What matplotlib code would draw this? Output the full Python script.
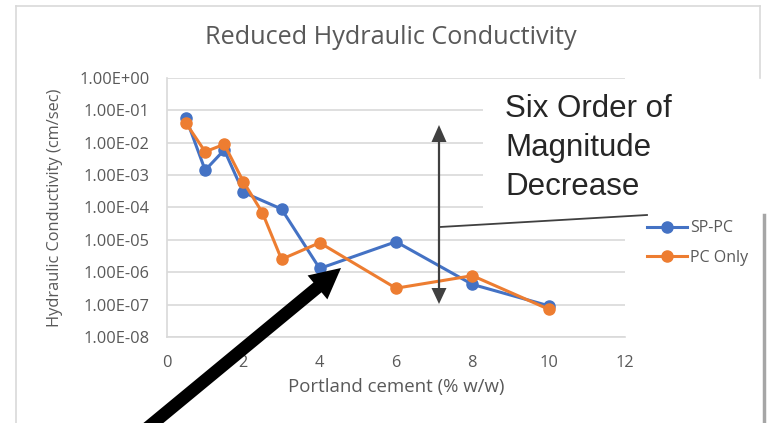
import matplotlib
matplotlib.use("Agg")
import matplotlib.pyplot as plt
from matplotlib.patches import Rectangle, FancyArrow
from matplotlib.lines import Line2D
from matplotlib.transforms import IdentityTransform
from matplotlib.ticker import FixedLocator, FuncFormatter

# ---- data ----
sp_pc_x = [0.5, 1, 1.5, 2, 3, 4, 6, 8, 10]
sp_pc_y = [5.6e-2, 1.4e-3, 5.9e-3, 2.9e-4, 8.9e-5, 1.3e-6, 8.7e-6, 4.2e-7, 9.2e-8]
pc_x = [0.5, 1, 1.5, 2, 2.5, 3, 4, 6, 8, 10]
pc_y = [3.9e-2, 5.2e-3, 8.8e-3, 6.2e-4, 6.8e-5, 2.5e-6, 8.1e-6, 3.2e-7, 7.8e-7, 7.2e-8]
x_ticks = [0, 2, 4, 6, 8, 10, 12]
y_ticks = [1e0, 1e-1, 1e-2, 1e-3, 1e-4, 1e-5, 1e-6, 1e-7, 1e-8]
series_names = ["SP-PC", "PC Only"]
title = "Reduced Hydraulic Conductivity"
xlabel = "Portland cement (% w/w)"
ylabel = "Hydraulic Conductivity (cm/sec)"
note = "Six Order of\nMagnitude\nDecrease"

W, H = 770, 423
fig = plt.figure(figsize=(W / 100, H / 100), dpi=100)

def fx(px):
    return px / W

def fy(py):
    return 1 - py / H

PIX = IdentityTransform()

def arrow_px(x0, y0, x1, y1, width, hw, hl, color, z):
    # pixel coordinates measured from the top-left corner
    a = FancyArrow(x0, H - y0, x1 - x0, -(y1 - y0), width=width, head_width=hw,
                   head_length=hl, length_includes_head=True, color=color,
                   transform=PIX, zorder=z, lw=0)
    fig.add_artist(a)
    a.set_transform(PIX)

BLUE = "#4472C4"
ORANGE = "#ED7D31"
GRAY = "#595959"
GRID = "#D9D9D9"
FONT = ["Open Sans", "DejaVu Sans"]

# chart border
fig.add_artist(Line2D([fx(16), fx(16)], [fy(6), fy(423)], color=GRID, lw=1.2))
fig.add_artist(Line2D([fx(16), fx(760)], [fy(6), fy(6)], color=GRID, lw=1.2))
fig.add_artist(Line2D([fx(760), fx(760)], [fy(6), fy(78)], color=GRID, lw=1.2))

ax = fig.add_axes([fx(167), fy(337), fx(625) - fx(167), fy(77.7) - fy(337)])
ax.set_yscale("log")
ax.set_xlim(0, 12)
ax.set_ylim(1e-8, 1e0)
ax.yaxis.set_major_locator(FixedLocator(y_ticks))
ax.yaxis.set_minor_locator(FixedLocator([]))
ax.yaxis.set_major_formatter(FuncFormatter(lambda v, p: f"{v:.2E}"))
ax.set_xticks(x_ticks)
ax.grid(axis="y", color=GRID, lw=1.2)
ax.set_axisbelow(True)
for s in ["top", "right"]:
    ax.spines[s].set_visible(False)
for s in ["left", "bottom"]:
    ax.spines[s].set_color(GRID)
    ax.spines[s].set_linewidth(1.2)
ax.tick_params(length=0, colors=GRAY, labelsize=11.8, pad=12.5)
ax.tick_params(axis="x", pad=13)
for lab in ax.get_xticklabels() + ax.get_yticklabels():
    lab.set_family(FONT)

l1, = ax.plot(sp_pc_x, sp_pc_y, color=BLUE, lw=2.2, marker="o", ms=8, label=series_names[0], clip_on=False)
l2, = ax.plot(pc_x, pc_y, color=ORANGE, lw=2.2, marker="o", ms=8, label=series_names[1], clip_on=False)

fig.text(fx(391), fy(38), title, ha="center", va="center", fontsize=18.2, color=GRAY, family=FONT)
fig.text(fx(396), fy(387), xlabel, ha="center", va="center", fontsize=13.4, color=GRAY, family=FONT)
fig.text(fx(55), fy(208), ylabel, ha="center", va="center", rotation=90, fontsize=11.8, color=GRAY, family=FONT)

leg = fig.legend(handles=[l1, l2], loc="upper left", bbox_to_anchor=(fx(633), fy(206)),
                 frameon=False, handlelength=2.5, handletextpad=0.15, labelspacing=0.85,
                 prop={"family": FONT, "size": 11.5})
for t in leg.get_texts():
    t.set_color(GRAY)

# white text box overlay
fig.add_artist(Rectangle((fx(483), fy(214)), fx(770) - fx(483), fy(79) - fy(214),
                         facecolor="white", edgecolor="none", zorder=5))
fig.text(fx(505), fy(148), note, ha="left", va="center", fontsize=22.5, color="#262626",
         family=["Liberation Sans", "DejaVu Sans"], linespacing=1.38, zorder=6)

# right gray bar
fig.add_artist(Line2D([fx(764), fx(764)], [fy(215), fy(423)], color="#A6A6A6", lw=2.5, zorder=6))

# double-headed vertical arrow
ac = "#404040"
fig.add_artist(Line2D([fx(439), fx(439)], [fy(138), fy(291)], color=ac, lw=1.6, zorder=7))
arrow_px(439, 150, 439, 125, 0.01, 15, 17, ac, 7)
arrow_px(439, 280, 439, 304, 0.01, 15, 16, ac, 7)
# connector line
fig.add_artist(Line2D([fx(440), fx(647)], [fy(227), fy(215)], color=ac, lw=1.3, zorder=7))

# big black arrow
arrow_px(134, 439, 341, 268, 12.7, 31, 30.5, "black", 8)

fig.savefig("out.png", dpi=100)
